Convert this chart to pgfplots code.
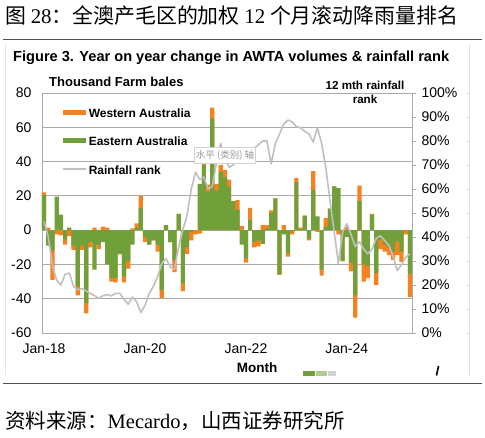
\documentclass[border=0pt]{standalone}
\usepackage{pgfplots}
\pgfplotsset{compat=1.18}
\usepackage{pgfplotstable}
\usepackage{fontspec}
\setmainfont{Liberation Sans}
\newfontfamily\cjk{Noto Sans CJK SC}
\newfontfamily\serif{Liberation Serif}

\definecolor{waorange}{RGB}{245,130,32}
\definecolor{eagreen}{RGB}{113,160,58}
\definecolor{rankgray}{RGB}{192,192,192}
\definecolor{gridgray}{RGB}{170,170,170}
\definecolor{rulegray}{RGB}{80,80,80}

% m: month index from Jan-18; east: Eastern Australia change (thousand bales);
% wtip: outer end of the Western Australia segment; rank: 12 mth rainfall rank (%)
\pgfplotstableread{
m east wtip rank
0 20.5 22 46.5
1 -9 1.5 40
2 -12 -29 28
3 19.5 -2.5 22
4 9 -3 20
5 -5.5 -8.5 24.5
6 1.5 -3.5 25
7 -9 -11.5 19.5
8 -33 -38 18
9 -9 -11.5 18.5
10 -42.5 -48.5 17.5
11 -7 -10 16.5
12 -23 1.5 15.5
13 -8.5 -11 14.5
14 -7 2 15.5
15 -20 1.5 16
16 -28 -30 15.5
17 -28 -30.5 16.5
18 -14 -14 16.5
19 -27 -30.5 14
20 -18 -22.5 12
21 -8.5 1 15
22 1.5 4 13
23 13 20 8.5
24 -4 -7 11.5
25 -8.5 -8.5 16.5
26 -6 -6 19.5
27 -8.5 -12.5 23.5
28 -35 -39.5 29
29 3 3 31
30 -7 -7 27.5
31 -17.5 -24.5 26.5
32 9.5 9.5 36
33 -31 -35.5 43
34 -10 -14 49
35 -1 -6 60
36 0 -2.5 67
37 27 -2 64
38 38 39 65
39 22.5 26.5 60
40 65 71.5 61
41 23 27 71
42 34 38 79
43 31 35 73
44 25.5 29.5 69
45 17 17 70
46 12 17.5 73
47 -8.5 2.5 74
48 -16.5 -19 76
49 6 13 77
50 -7 -10 77
51 -6 -9.5 78.5
52 -8 3 80
53 1 3 80
54 10 11.5 70.5
55 18.5 18.5 79
56 -26 -26 83
57 -2.5 3 87
58 -13.5 -15.5 88.7
59 -0.5 -2.5 88
60 28 30.5 86
61 0.5 1.5 85.5
62 8.5 8.5 84
63 -5 -6 83
64 23.5 34.5 79.5
65 8 -1 85.5
66 -23 -26.5 79
67 2 7 69
68 12.5 12.5 55
69 25.5 25.5 42
70 24.5 -2.5 29
71 -18 -18 42
72 -4 2 45.5
73 -19 -24 41
74 -38 -51 36
75 17 26 38
76 -20 -30 35
77 -21 -28 33
78 9 9.5 35
79 -25 -32 39.5
80 -5.5 -11 40.5
81 -8.5 -12.5 38.5
82 -10 -14.5 36.5
83 -12.5 -17.5 32
84 -6.5 -14.5 26
85 -12.5 -18.5 28.5
86 0 -2.5 31.5
87 -25.5 -39 33
}\wooldata

\begin{document}
\begin{tikzpicture}
% page frame
\fill[white] (0bp,0bp) rectangle (485bp,-438bp);

% heading
\node[anchor=west, inner sep=0pt] at (5bp,-16bp)
  {\cjk\fontsize{20.9bp}{24bp}\selectfont 图 {\serif 28}：全澳产毛区的加权 {\serif 12} 个月滚动降雨量排名};
\draw[rulegray, line width=0.9bp] (3bp,-39bp) -- (482bp,-39bp);

% panel edges
\draw[gray!20, line width=0.8bp] (5bp,-44bp) -- (5bp,-375bp);
\draw[gray!25, line width=0.8bp] (469bp,-44bp) -- (469bp,-375bp);
\foreach \k in {0,...,10} \draw[gray!25, line width=0.8bp] (465.5bp,-333bp+24*\k bp) -- (469bp,-333bp+24*\k bp);

\node[anchor=west, inner sep=0pt, font=\bfseries\fontsize{14.6bp}{17bp}\selectfont] at (13bp,-58bp)
  {Figure 3. Year on year change in AWTA volumes \& rainfall rank};
\node[anchor=west, inner sep=0pt, font=\bfseries\fontsize{13bp}{15bp}\selectfont] at (49bp,-82bp)
  {Thousand Farm bales};
\node[align=center, inner sep=0pt, font=\bfseries\fontsize{11.6bp}{14bp}\selectfont] at (365bp,-92bp)
  {12 mth rainfall\\rank};

% volumes (left axis)
\begin{axis}[
  at={(42bp,-333bp)}, anchor=south west,
  width=370bp, height=240bp, scale only axis,
  xmin=-0.5, xmax=87.5, ymin=-60, ymax=80,
  xtick={0,24,48,72}, xticklabels={Jan-18,Jan-20,Jan-22,Jan-24},
  ytick={-60,-40,-20,0,20,40,60,80},
  yticklabels={-60,-40,-20,0,20,40,60,80},
  major tick length=0pt,
  ymajorgrids, grid style={gridgray, line width=0.8bp},
  axis line style={gridgray, line width=0.8bp},
  tick label style={font=\fontsize{14bp}{16bp}\selectfont, text=black},
  xticklabel style={yshift=-7bp},
  yticklabel style={xshift=-7bp},
  ybar, bar width=1, bar shift=0pt,
  legend style={at={(axis description cs:0.054,0.9375)}, anchor=north west,
    draw=none, fill=none, inner sep=0pt, row sep=16.5bp, column sep=2bp,
    font=\bfseries\fontsize{12bp}{14bp}\selectfont,
    nodes={inner sep=0pt, text height=9bp, text depth=3bp}},
  legend cell align=left,
]
\addplot[fill=waorange, draw=none,
  legend image code/.code={\fill[waorange] (0bp,-0.5bp) rectangle (23bp,4.5bp);}]
  table[x=m, y=wtip] {\wooldata};
\addlegendentry{Western Australia}
\addplot[fill=eagreen, draw=none,
  legend image code/.code={\fill[eagreen] (0bp,-0.5bp) rectangle (23bp,4.5bp);}]
  table[x=m, y=east] {\wooldata};
\addlegendentry{Eastern Australia}
\addlegendimage{legend image code/.code={\draw[rankgray, line width=1.6bp] (0bp,2bp) -- (23bp,2bp);}}
\addlegendentry{Rainfall rank}
\end{axis}

% rainfall rank (right axis)
\begin{axis}[
  at={(42bp,-333bp)}, anchor=south west,
  width=370bp, height=240bp, scale only axis,
  xmin=-0.5, xmax=87.5, ymin=0, ymax=100,
  axis x line=none, axis y line*=right,
  ytick={0,10,...,100},
  yticklabels={0\%,10\%,20\%,30\%,40\%,50\%,60\%,70\%,80\%,90\%,100\%},
  tick align=outside, major tick length=4bp,
  y axis line style={gridgray, line width=0.8bp},
  ytick style={gridgray, line width=0.8bp},
  yticklabel style={font=\fontsize{14bp}{16bp}\selectfont, text=black, xshift=2bp},
]
\addplot[rankgray, line width=1.6bp, line join=round, mark=none]
  table[x=m, y=rank] {\wooldata};
\end{axis}

% chart hover tip
\node[draw=gray!35, fill=white, inner sep=1.5bp, minimum width=54bp, minimum height=16bp,
  font=\cjk\fontsize{9.5bp}{11bp}\selectfont, text=gray!80] at (225bp,-155.5bp) {水平 (类别) 轴};

% x axis title
\node[anchor=base, inner sep=0pt, font=\bfseries\fontsize{13.5bp}{15bp}\selectfont] at (257bp,-372bp) {Month};

% cropped edge of the next panel
\fill[eagreen] (303bp,-371bp) rectangle (315bp,-375.5bp);
\fill[eagreen!55] (316bp,-371bp) rectangle (327bp,-375.5bp);
\fill[gray!35] (328bp,-371bp) rectangle (336bp,-375.5bp);
\draw[black, line width=1.6bp] (436.5bp,-375.5bp) -- (438.5bp,-366bp);

% footer
\draw[rulegray, line width=0.9bp] (3bp,-383bp) -- (482bp,-383bp);
\node[anchor=west, inner sep=0pt] at (5bp,-421bp)
  {\cjk\fontsize{20.5bp}{24bp}\selectfont 资料来源：{\serif Mecardo}，山西证券研究所};
\end{tikzpicture}
\end{document}
